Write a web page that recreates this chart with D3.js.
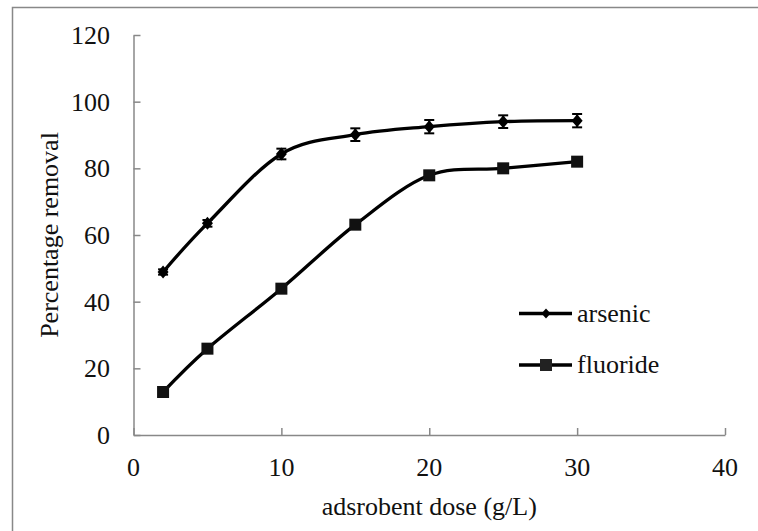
<!DOCTYPE html>
<html>
<head>
<meta charset="utf-8">
<script src="https://cdn.jsdelivr.net/npm/d3@7"></script>
<style>
  html, body { margin: 0; padding: 0; background: #fff; }
  svg { display: block; }
  text { font-family: "Liberation Serif", "Times New Roman", serif; fill: #111; }
</style>
</head>
<body>
<svg id="chart" width="758" height="531"></svg>
<script>
// Adsorbent dose (g/L) on the x axis
const doses = [2, 5, 10, 15, 20, 25, 30];
// Percentage removal per series
const arsenicValues  = [48.9, 63.5, 84.3, 90.1, 92.5, 94.0, 94.3];
const arsenicErrors  = [0.8, 1.0, 1.6, 1.9, 2.0, 1.9, 2.0];
const fluorideValues = [12.9, 25.9, 43.9, 63.1, 77.9, 80.0, 82.0];
// Tick labels
const xTicks = [0, 10, 20, 30, 40];
const yTicks = [0, 20, 40, 60, 80, 100, 120];
const seriesNames = ["arsenic", "fluoride"];
const xTitle = "adsrobent dose (g/L)";
const yTitle = "Percentage removal";

const svg = d3.select("#chart");
const FS = 26;        // font size
const axisColor = "#888";

// outer frame
svg.append("rect")
  .attr("x", 12.5).attr("y", 7.5)
  .attr("width", 800).attr("height", 600)
  .attr("fill", "none").attr("stroke", axisColor).attr("stroke-width", 1.5);

const x = d3.scaleLinear().domain([0, 40]).range([133.5, 725]);
const y = d3.scaleLinear().domain([0, 120]).range([435, 35]);

function label(g, tx, ty, str, anchor, rot) {
  return g.append("text")
    .attr("transform", `translate(${tx},${ty})` + (rot ? ` rotate(${rot})` : ""))
    .attr("text-anchor", anchor)
    .attr("font-size", FS)
    .text(str);
}

// axes (ticks point into the plot)
const yAxis = svg.append("g")
  .attr("transform", `translate(${x(0)},0)`)
  .call(d3.axisLeft(y).tickValues(yTicks).tickSizeInner(-7).tickSizeOuter(0).tickFormat(""));
const xAxis = svg.append("g")
  .attr("transform", `translate(0,${y(0)})`)
  .call(d3.axisBottom(x).tickValues(xTicks).tickSizeInner(-7).tickSizeOuter(0).tickFormat(""));
[xAxis, yAxis].forEach(a => {
  a.selectAll("path.domain").attr("stroke", axisColor).attr("stroke-width", 1.5);
  a.selectAll(".tick line").attr("stroke", axisColor).attr("stroke-width", 1.5);
});

const labels = svg.append("g");
yTicks.forEach(v => label(labels, 110, y(v) + 9, String(v), "end"));
xTicks.forEach(v => label(labels, x(v), 476, String(v), "middle"));
label(labels, x(20), 515, xTitle, "middle");
label(labels, 58, 235, yTitle, "middle", -90);

// smoothed series lines
const line = d3.line()
  .x(d => x(d[0])).y(d => y(d[1]))
  .curve(d3.curveCatmullRom.alpha(0));

const arsenic = doses.map((d, i) => [d, arsenicValues[i], arsenicErrors[i]]);
const fluoride = doses.map((d, i) => [d, fluorideValues[i]]);

svg.append("path").datum(fluoride).attr("d", line)
  .attr("fill", "none").attr("stroke", "#000").attr("stroke-width", 3.3);
svg.append("path").datum(arsenic).attr("d", line)
  .attr("fill", "none").attr("stroke", "#000").attr("stroke-width", 3.3);

// arsenic error bars
const eb = svg.append("g").attr("stroke", "#000").attr("stroke-width", 2);
arsenic.forEach(d => {
  const cx = x(d[0]), y1 = y(d[1] + d[2]), y2 = y(d[1] - d[2]);
  eb.append("line").attr("x1", cx).attr("x2", cx).attr("y1", y1).attr("y2", y2);
  eb.append("line").attr("x1", cx - 5).attr("x2", cx + 5).attr("y1", y1).attr("y2", y1);
  eb.append("line").attr("x1", cx - 5).attr("x2", cx + 5).attr("y1", y2).attr("y2", y2);
});

const diamond = "M0,-6.5L5.5,0L0,6.5L-5.5,0Z";
svg.append("g").selectAll("path").data(arsenic).join("path")
  .attr("d", diamond)
  .attr("transform", d => `translate(${x(d[0])},${y(d[1])})`)
  .attr("fill", "#000");
svg.append("g").selectAll("rect").data(fluoride).join("rect")
  .attr("x", d => x(d[0]) - 6).attr("y", d => y(d[1]) - 6)
  .attr("width", 12).attr("height", 12)
  .attr("fill", "#111");

// legend
const legend = svg.append("g");
const legendRows = [
  { name: seriesNames[0], ly: 313.5, marker: "diamond" },
  { name: seriesNames[1], ly: 365, marker: "square" }
];
legendRows.forEach(r => {
  legend.append("line").attr("x1", 519).attr("x2", 572)
    .attr("y1", r.ly).attr("y2", r.ly)
    .attr("stroke", "#000").attr("stroke-width", 3.3);
  if (r.marker === "diamond") {
    legend.append("path").attr("d", "M0,-5L4.5,0L0,5L-4.5,0Z")
      .attr("transform", `translate(546,${r.ly})`).attr("fill", "#000");
  } else {
    legend.append("rect").attr("x", 540).attr("y", r.ly - 6)
      .attr("width", 12).attr("height", 12).attr("fill", "#222");
  }
  label(legend, 577, r.ly + 8, r.name, "start");
});
</script>
</body>
</html>
